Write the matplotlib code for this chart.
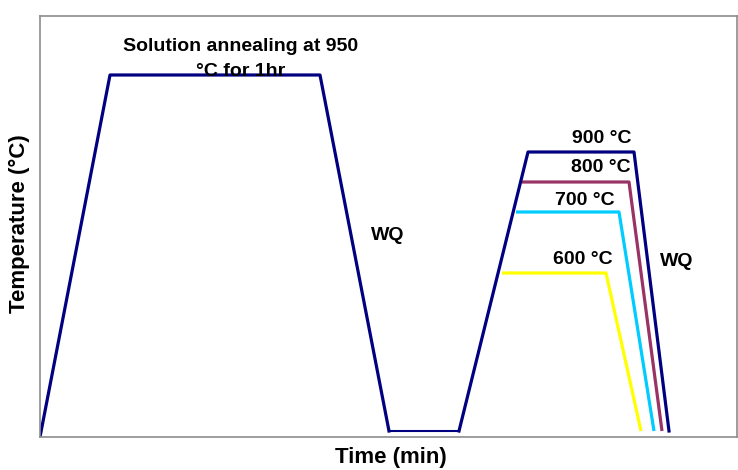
import matplotlib
matplotlib.use('Agg')
from matplotlib import pyplot as plt

plt.rcParams['font.family'] = ['Liberation Sans', 'DejaVu Sans']
plt.rcParams['font.weight'] = 'bold'

# Schematic heat-treatment profile (arbitrary time / temperature units)
sa_time = [0, 70, 280, 349]
sa_temp = [0, 362, 362, 6]

hold_time = [349, 419]
hold_temp = [6, 6]

t900_time = [419, 488, 594, 629]
t900_temp = [6, 285, 285, 6]

t800_time = [482, 589, 622]
t800_temp = [255, 255, 6]

t700_time = [476, 579, 614]
t700_temp = [225, 225, 6]

t600_time = [462, 566, 601]
t600_temp = [164, 164, 6]

navy = '#000080'

fig = plt.figure(figsize=(7.38, 4.70), dpi=100)
ax = fig.add_axes([40 / 738, 33 / 470, 697 / 738, 421 / 470])

ax.plot(t600_time, t600_temp, color='#FFFF00', lw=2.3, solid_capstyle='butt')
ax.plot(t700_time, t700_temp, color='#00CCFF', lw=2.3, solid_capstyle='butt')
ax.plot(t800_time, t800_temp, color='#993366', lw=2.3, solid_capstyle='butt')
ax.plot(sa_time, sa_temp, color=navy, lw=2.3)
ax.plot(hold_time, hold_temp, color=navy, lw=1.5)
ax.plot(t900_time, t900_temp, color=navy, lw=2.3)

ax.set_xlim(0, 697)
ax.set_ylim(0, 421)
ax.set_xticks([])
ax.set_yticks([])
for s in ax.spines.values():
    s.set_color('#8c8c8c')
    s.set_linewidth(1.2)

ax.text(201, 378, 'Solution annealing at 950\n°C for 1hr', ha='center', va='center',
        fontsize=14, fontweight='bold', linespacing=1.55)
ax.text(348, 201, 'WQ', ha='center', va='center', fontsize=14, fontweight='bold')
ax.text(637, 176, 'WQ', ha='center', va='center', fontsize=14, fontweight='bold')
ax.text(562, 298, '900 °C', ha='center', va='center', fontsize=14, fontweight='bold')
ax.text(561, 269, '800 °C', ha='center', va='center', fontsize=14, fontweight='bold')
ax.text(545, 236, '700 °C', ha='center', va='center', fontsize=14, fontweight='bold')
ax.text(543, 177, '600 °C', ha='center', va='center', fontsize=14, fontweight='bold')

ax.set_xlabel('Time (min)', fontsize=16, fontweight='bold')
ax.set_ylabel('Temperature (°C)', fontsize=16, fontweight='bold')
ax.xaxis.set_label_coords(351 / 697, -10 / 421)
ax.yaxis.set_label_coords(-10 / 697, 213 / 421)

fig.savefig('out.png', dpi=100)
